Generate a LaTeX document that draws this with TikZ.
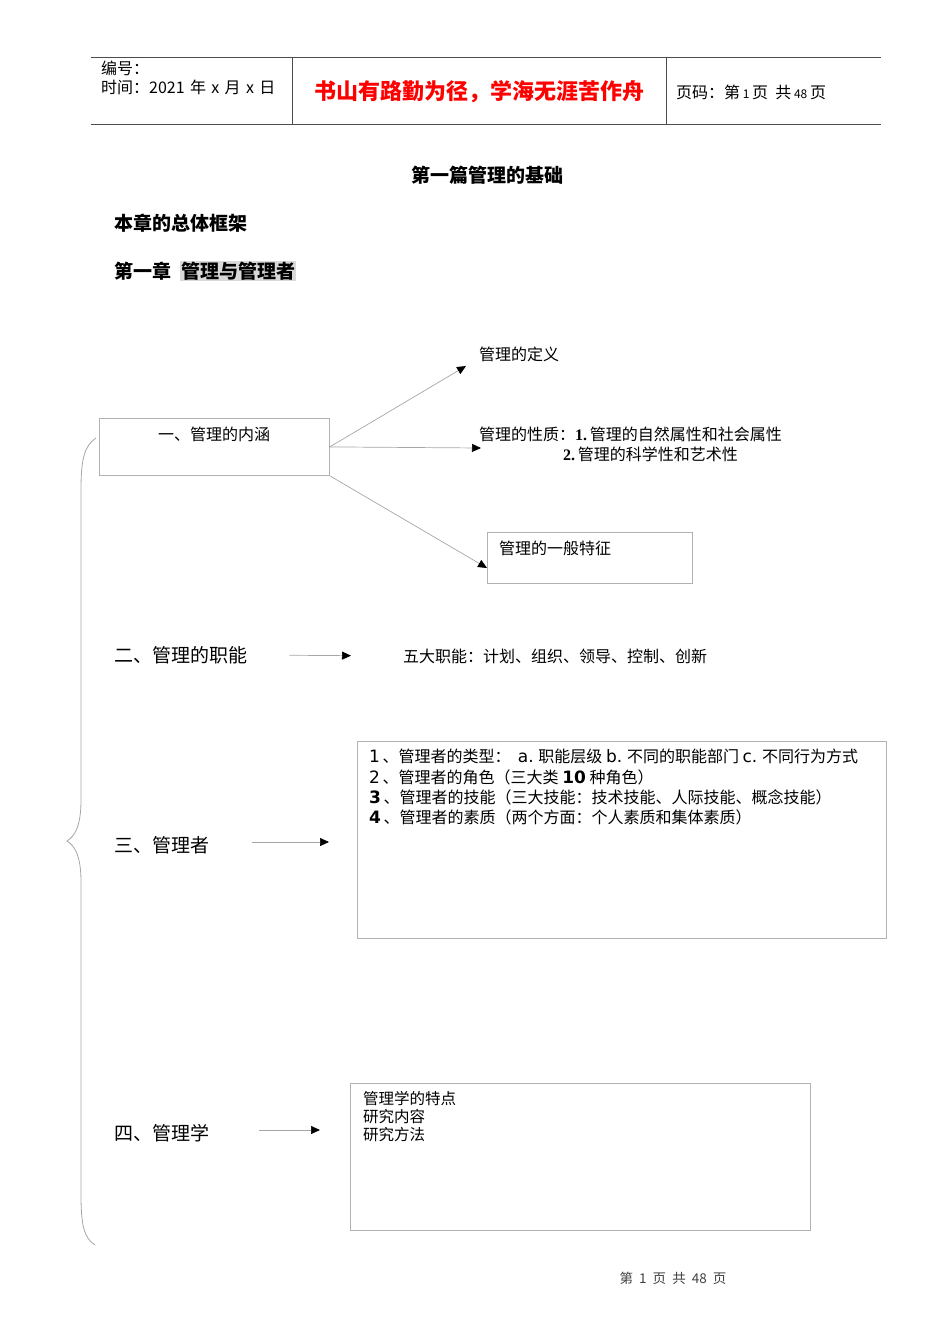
\documentclass[tikz,border=0pt]{standalone}
\usepackage{fontspec}
\setmainfont{Noto Sans CJK SC}
\newfontfamily\latinfont{DejaVu Sans}
\newfontfamily\numfont{Liberation Serif}
\usetikzlibrary{arrows.meta}

\newcommand\lat[1]{{\fontsize{17}{17}\selectfont\latinfont #1}}

\tikzset{
  txt/.style={inner sep=0pt, anchor=west, font=\fontsize{#1}{#1}\selectfont},
  gline/.style={draw=black!30, line width=0.8pt},
  frame/.style={draw=black!30, line width=0.8pt, rectangle, anchor=north west, inner sep=0pt},
  link/.style={draw=black!35, line width=0.7pt, -{Triangle[length=9pt,width=8pt,black]}},
}

\begin{document}
\begin{tikzpicture}[x=1pt,y=-1pt]
    \useasboundingbox (0,0) rectangle (950,1344);

    % Header table
    \draw[black!70, line width=0.8pt] (91,57) -- (881,57);
    \draw[black!70, line width=0.8pt] (91,124) -- (881,124);
    \draw[black!70, line width=0.8pt] (292,57) -- (292,124);
    \draw[black!70, line width=0.8pt] (666,57) -- (666,124);
    \node[txt=16] (bh) at (101,68) {编号：};
    \node[txt=16] (sj) at (101,87) {时间：2021\,\,年\,\,x\,\,月\,\,x\,\,日};
    \node[txt=22, text=red, anchor=center, font=\fontsize{22}{22}\selectfont\bfseries] (motto) at (479,92) {书山有路勤为径，学海无涯苦作舟};
    \node[txt=16] (ym) at (676,92) {页码：第\,{\fontsize{12}{12}\selectfont 1}\,页\ \ 共\,{\fontsize{12}{12}\selectfont 48}\,页};

    % Titles
    \node[txt=19, anchor=center, font=\fontsize{19}{19}\selectfont\bfseries] (pian) at (487,175) {第一篇管理的基础};
    \node[txt=19, font=\fontsize{19}{19}\selectfont\bfseries] (kuangjia) at (114,223) {本章的总体框架};
    \node[txt=19, font=\fontsize{19}{19}\selectfont\bfseries] (zhang) at (114,271) {第一章};
    \node[txt=19, fill=black!15, inner sep=1pt, font=\fontsize{19}{19}\selectfont\bfseries] (zhangname) at (180,271) {管理与管理者};

    % Brace
    \draw[gline, black!35] (96,438) .. controls (84,446) and (81,460) .. (81,490)
        -- (81,800) .. controls (81,826) and (75,836) .. (67,841)
        .. controls (75,846) and (81,856) .. (81,882)
        -- (81,1195) .. controls (81,1225) and (84,1238) .. (95,1245);

    % 一、管理的内涵
    \node[frame, minimum width=230pt, minimum height=57pt] (neihan) at (99,418) {};
    \node[txt=16, anchor=center] (neihantxt) at (214,434) {一、管理的内涵};
    \node[txt=16] (dingyi) at (479,354) {管理的定义};
    \node[txt=16] (xingzhi1) at (479,434) {管理的性质：{\numfont\bfseries 1.}\,管理的自然属性和社会属性};
    \node[txt=16] (xingzhi2) at (563,454) {{\numfont\bfseries 2.}\,管理的科学性和艺术性};
    \node[frame, minimum width=205pt, minimum height=51pt] (tezheng) at (487,532) {};
    \node[txt=16] (tezhengtxt) at (499,548) {管理的一般特征};
    \coordinate (dingyiend) at (466,366);
    \coordinate (xingzhiend) at (481,448);
    \coordinate (tezhengend) at (487,568);
    \draw[link] (neihan.east) -- (dingyiend);
    \draw[link] (neihan.east) -- (xingzhiend);
    \draw[link] (neihan.south east) -- (tezhengend);

    % 二、管理的职能
    \node[txt=19] (zhineng) at (114,655) {二、管理的职能};
    \node[txt=16] (wuda) at (403,656) {五大职能：计划、组织、领导、控制、创新};
    \draw[link, shorten <=42pt, shorten >=52pt] (zhineng.east) -- (wuda.west);

    % 三、管理者
    \node[txt=19] (guanlizhe) at (114,845) {三、管理者};
    \node[frame, minimum width=529pt, minimum height=197pt] (zhebox) at (357,741) {};
    \node[inner sep=0pt, anchor=north west, align=left, font=\fontsize{16}{20.4}\selectfont] (zhetxt) at (369,749)
      {\lat{1}\,、管理者的类型：\ \ \lat{a.} 职能层级 \lat{b.} 不同的职能部门 \lat{c.} 不同行为方式\\
       \lat{2}\,、管理者的角色（三大类 \lat{\bfseries 10} 种角色）\\
       \lat{\bfseries 3}\,、管理者的技能（三大技能：技术技能、人际技能、概念技能）\\
       \lat{\bfseries 4}\,、管理者的素质（两个方面：个人素质和集体素质）};
    \draw[link, shorten <=43pt, shorten >=28pt] ([yshift=3pt]guanlizhe.east) -- ([yshift=3pt]guanlizhe.east -| zhebox.west);

    % 四、管理学
    \node[txt=19] (guanlixue) at (114,1133) {四、管理学};
    \node[frame, minimum width=460pt, minimum height=147pt] (xuebox) at (350,1083) {};
    \node[inner sep=0pt, anchor=north west, align=left, font=\fontsize{15.5}{18}\selectfont] (xuetxt) at (363,1091)
      {管理学的特点\\研究内容\\研究方法};
    \draw[link, shorten <=50pt, shorten >=30pt] ([yshift=3pt]guanlixue.east) -- ([yshift=3pt]guanlixue.east -| xuebox.west);

    % Footer
    \node[txt=13.5, anchor=center, text=black!75] (yema) at (673,1278) {第\ \ 1\ \ 页\ \ 共\ \ 48\ \ 页};
\end{tikzpicture}
\end{document}
